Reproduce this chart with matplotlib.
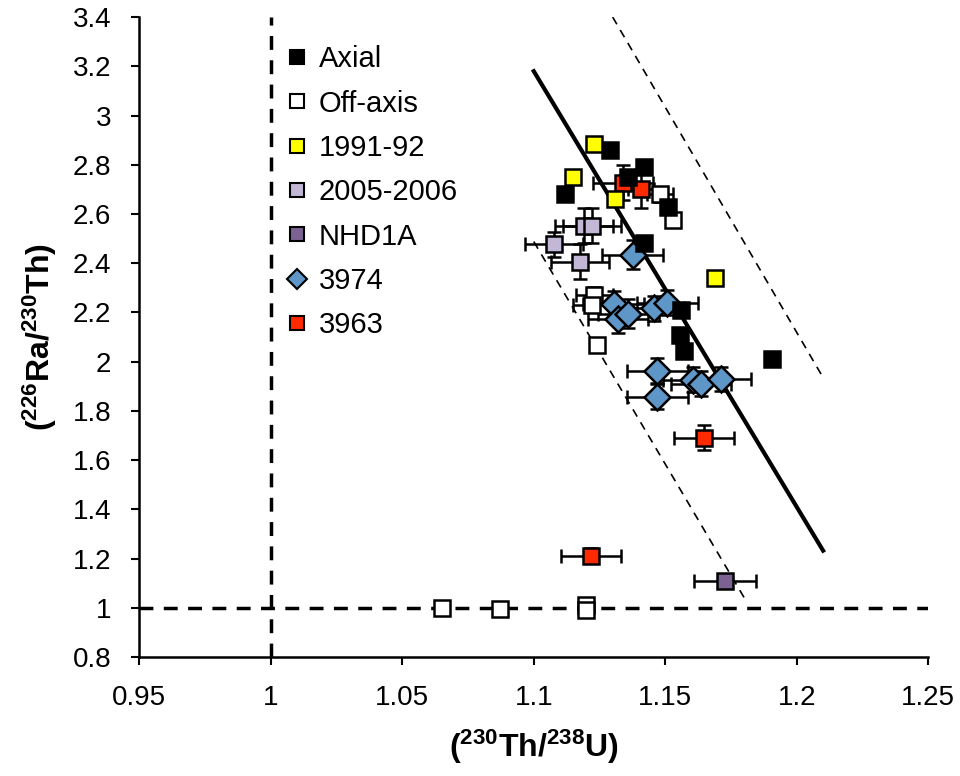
#!/usr/bin/env python3
import numpy as np
import matplotlib
matplotlib.use('Agg')
import matplotlib.pyplot as plt
from matplotlib.lines import Line2D

plt.rcParams['font.family'] = ['Liberation Sans', 'DejaVu Sans']
plt.rcParams['mathtext.fontset'] = 'custom'
plt.rcParams['mathtext.rm'] = 'Liberation Sans'
plt.rcParams['mathtext.bf'] = 'Liberation Sans:bold'

# Axial
axial_x = [1.129, 1.112, 1.142, 1.136, 1.151, 1.142, 1.156, 1.1555, 1.157, 1.1905]
axial_y = [2.86, 2.68, 2.79, 2.75, 2.63, 2.48, 2.21, 2.11, 2.045, 2.01]

# Off-axis
off_x = [1.148, 1.153, 1.123, 1.122, 1.124, 1.065, 1.087, 1.120, 1.120]
off_y = [2.68, 2.577, 2.272, 2.23, 2.069, 1.0, 0.996, 1.01, 0.99]
off_xerr = [0.005, 0.0, 0.007, 0.007, 0.0, 0.0, 0.0, 0.0, 0.0]
off_yerr = [0.03, 0.0, 0.03, 0.03, 0.0, 0.0, 0.0, 0.0, 0.0]

# 1991-92
y91_x = [1.123, 1.115, 1.131, 1.169]
y91_y = [2.886, 2.752, 2.659, 2.341]

# 2005-2006
y05_x = [1.119, 1.122, 1.1076, 1.1175]
y05_y = [2.553, 2.553, 2.476, 2.406]
y05_xerr = [0.011, 0.011, 0.011, 0.011]
y05_yerr = [0.07, 0.07, 0.05, 0.07]

# NHD1A
nhd_x = [1.1726]
nhd_y = [1.11]
nhd_xerr = [0.0118]

# 3974
d74_x = [1.1376, 1.1304, 1.132, 1.136, 1.1457, 1.1508, 1.147, 1.147, 1.1605, 1.1635, 1.171]
d74_y = [2.435, 2.236, 2.175, 2.195, 2.216, 2.24, 1.963, 1.858, 1.927, 1.911, 1.93]
d74_xerr = [0.0115, 0.0115, 0.0115, 0.0115, 0.0115, 0.0115, 0.0115, 0.0115, 0.0115, 0.0115, 0.0115]
d74_yerr = [0.06, 0.05, 0.06, 0.06, 0.05, 0.05, 0.05, 0.05, 0.05, 0.05, 0.05]

# 3963
r63_x = [1.134, 1.1407, 1.1646, 1.1217]
r63_y = [2.727, 2.703, 1.691, 1.211]
r63_xerr = [0.0114, 0.005, 0.0114, 0.0114]
r63_yerr = [0.07, 0.08, 0.05, 0.03]

# regression line and envelope
fit_x = [1.1, 1.21]
fit_y = [3.18, 1.232]
up_x = [1.130, 1.21]
up_y = [3.40, 1.935]
lo_x = [1.1, 1.1806]
lo_y = [2.488, 1.03]

fig = plt.figure(figsize=(9.6, 7.76), dpi=100)
ax = fig.add_axes([0.145, 0.1534, 0.822, 0.8246])

ax.axvline(1.0, color='black', lw=2.5, ls=(0, (4, 3)), zorder=1)
ax.axhline(1.0, color='black', lw=2.5, ls=(0, (4, 3)), zorder=1)
ax.plot(fit_x, fit_y, color='black', lw=3, zorder=2)
ax.plot(up_x, up_y, color='black', lw=1.2, ls=(0, (5, 4)), zorder=2)
ax.plot(lo_x, lo_y, color='black', lw=1.2, ls=(0, (5, 4)), zorder=2)

ms = 12
ek = dict(ecolor='black', elinewidth=1.8, capsize=5, capthick=1.8, zorder=3)

ax.errorbar(y05_x, y05_y, xerr=y05_xerr, yerr=y05_yerr, fmt='s', ms=ms,
            mfc='#c3b7d6', mec='black', mew=1.8, **ek)
ax.errorbar(off_x, off_y, xerr=off_xerr, yerr=off_yerr, fmt='s', ms=ms,
            mfc='white', mec='black', mew=1.8, **ek)
ax.errorbar(d74_x, d74_y, xerr=d74_xerr, yerr=d74_yerr, fmt='D', ms=ms + 1,
            mfc='#5f96c8', mec='black', mew=1.8, **ek)
ax.errorbar(nhd_x, nhd_y, xerr=nhd_xerr, fmt='s', ms=ms,
            mfc='#7b6293', mec='black', mew=1.8, **ek)
ax.plot(axial_x, axial_y, 's', ms=ms, mfc='black', mec='black', mew=1.8, zorder=4)
ax.plot(y91_x, y91_y, 's', ms=ms, mfc='#ffff00', mec='black', mew=1.8, zorder=4)
ax.errorbar(r63_x, r63_y, xerr=r63_xerr, yerr=r63_yerr, fmt='s', ms=ms,
            mfc='#ff2a00', mec='black', mew=1.8, **ek)

ax.set_xlim(0.95, 1.25)
ax.set_ylim(0.8, 3.4)
ax.set_xticks(np.arange(0.95, 1.2501, 0.05))
ax.set_xticklabels(['0.95', '1', '1.05', '1.1', '1.15', '1.2', '1.25'])
ax.set_yticks(np.arange(0.8, 3.401, 0.2))
ax.set_yticklabels(['0.8', '1', '1.2', '1.4', '1.6', '1.8', '2', '2.2', '2.4',
                    '2.6', '2.8', '3', '3.2', '3.4'])
ax.tick_params(labelsize=20, direction='out', length=6, width=1.5, pad=14)
ax.tick_params(axis='x', pad=14)
for s in ['top', 'right']:
    ax.spines[s].set_visible(False)
for s in ['left', 'bottom']:
    ax.spines[s].set_linewidth(1.8)

ax.set_xlabel(r'$\mathbf{(^{230}Th/^{238}U)}$', fontsize=23, labelpad=12)
ax.set_ylabel(r'$\mathbf{(^{226}Ra/^{230}Th)}$', fontsize=23, labelpad=10)

labels = ['Axial', 'Off-axis', '1991-92', '2005-2006', 'NHD1A', '3974', '3963']
colors = ['black', 'white', '#ffff00', '#c3b7d6', '#7b6293', '#5f96c8', '#ff2a00']
markers = ['s', 's', 's', 's', 's', 'D', 's']
handles = [Line2D([], [], ls='none', marker=m, ms=10.5, mfc=c, mec='black', mew=1.5)
           for m, c in zip(markers, colors)]
ax.legend(handles, labels, loc='upper left', bbox_to_anchor=(0.163, 0.988),
          bbox_transform=ax.transAxes,
          frameon=False, fontsize=21, handlelength=0.6, handletextpad=0.45,
          labelspacing=0.56, borderaxespad=0.3)

fig.savefig('out.png', dpi=100)
